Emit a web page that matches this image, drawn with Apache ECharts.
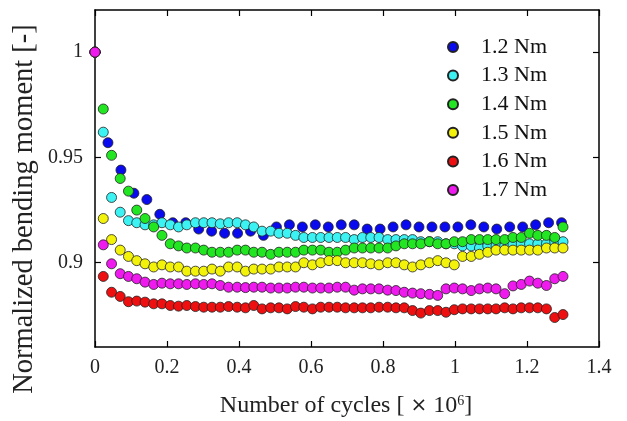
<!DOCTYPE html>
<html>
<head>
<meta charset="utf-8">
<script src="https://cdn.jsdelivr.net/npm/echarts@6/dist/echarts.min.js"></script>
<style>html,body{margin:0;padding:0;background:#fff}#c{width:627px;height:421px}</style>
</head>
<body>
<div id="c"></div>
<script>
// Cycle positions (x 10^6)
var cyclesDense = [0, 0.023, 0.046, 0.070, 0.093, 0.116, 0.139, 0.163, 0.186, 0.209,
  0.232, 0.255, 0.279, 0.302, 0.325, 0.348, 0.371, 0.395, 0.418, 0.441,
  0.464, 0.488, 0.511, 0.534, 0.557, 0.580, 0.604, 0.627, 0.650, 0.673,
  0.696, 0.720, 0.743, 0.766, 0.789, 0.813, 0.836, 0.859, 0.882, 0.905,
  0.929, 0.952, 0.975, 0.998, 1.021, 1.045, 1.068, 1.091, 1.114, 1.138,
  1.161, 1.184, 1.207, 1.230, 1.254, 1.277, 1.300];
var cyclesBlue = [0, 0.036, 0.072, 0.108, 0.144, 0.18, 0.216, 0.252, 0.288, 0.324,
  0.36, 0.396, 0.432, 0.468, 0.504, 0.54, 0.576, 0.612, 0.648, 0.684,
  0.72, 0.756, 0.792, 0.828, 0.864, 0.9, 0.936, 0.972, 1.008, 1.044,
  1.08, 1.116, 1.152, 1.188, 1.224, 1.26, 1.296];

var seriesNames = ['1.2 Nm', '1.3 Nm', '1.4 Nm', '1.5 Nm', '1.6 Nm', '1.7 Nm'];

var m12 = [1.000, 0.957, 0.944, 0.933, 0.930, 0.923, 0.919, 0.919, 0.916, 0.915,
  0.914, 0.914, 0.915, 0.913, 0.917, 0.918, 0.917, 0.918, 0.917, 0.918,
  0.918, 0.916, 0.916, 0.917, 0.918, 0.917, 0.917, 0.917, 0.917, 0.918,
  0.917, 0.916, 0.917, 0.917, 0.918, 0.919, 0.919];
var m13 = [1.000, 0.962, 0.931, 0.924, 0.920, 0.919, 0.918, 0.918, 0.919, 0.918,
  0.917, 0.918, 0.919, 0.919, 0.919, 0.9185, 0.919, 0.919, 0.918, 0.917,
  0.915, 0.915, 0.914, 0.914, 0.913, 0.912, 0.912, 0.912, 0.912, 0.912,
  0.912, 0.911, 0.912, 0.912, 0.912, 0.911, 0.911, 0.911, 0.911, 0.910,
  0.910, 0.910, 0.909, 0.909, 0.908, 0.908, 0.907, 0.908, 0.908, 0.908,
  0.909, 0.909, 0.909, 0.909, 0.909, 0.910, 0.910];
var m14 = [1.000, 0.973, 0.951, 0.940, 0.934, 0.925, 0.921, 0.917, 0.913, 0.909,
  0.908, 0.907, 0.907, 0.906, 0.905, 0.905, 0.905, 0.906, 0.906, 0.905,
  0.905, 0.904, 0.905, 0.905, 0.905, 0.906, 0.906, 0.906, 0.905, 0.905,
  0.906, 0.907, 0.907, 0.907, 0.907, 0.907, 0.908, 0.909, 0.909, 0.909,
  0.910, 0.909, 0.909, 0.910, 0.910, 0.911, 0.911, 0.911, 0.911, 0.911,
  0.912, 0.912, 0.914, 0.913, 0.913, 0.912, 0.917];
var m15 = [1.000, 0.921, 0.911, 0.906, 0.903, 0.901, 0.8995, 0.898, 0.899, 0.898,
  0.898, 0.896, 0.896, 0.896, 0.897, 0.896, 0.898, 0.898, 0.896, 0.897,
  0.897, 0.897, 0.898, 0.898, 0.898, 0.900, 0.899, 0.900, 0.901, 0.901,
  0.900, 0.900, 0.900, 0.8995, 0.899, 0.900, 0.900, 0.899, 0.898, 0.899,
  0.900, 0.901, 0.900, 0.899, 0.903, 0.903, 0.904, 0.905, 0.906, 0.906,
  0.906, 0.906, 0.906, 0.906, 0.907, 0.907, 0.907];
var m16 = [1.000, 0.8935, 0.886, 0.884, 0.8815, 0.8818, 0.8813, 0.8805, 0.8805, 0.8797,
  0.8794, 0.8797, 0.8792, 0.8789, 0.8789, 0.8789, 0.8792, 0.8789, 0.8786, 0.8797,
  0.8781, 0.8786, 0.8786, 0.8781, 0.8792, 0.8789, 0.8781, 0.8789, 0.8789, 0.8789,
  0.8786, 0.8786, 0.8786, 0.8786, 0.8789, 0.8789, 0.8786, 0.8786, 0.8773, 0.8761,
  0.8773, 0.8773, 0.8765, 0.8777, 0.8781, 0.8781, 0.8781, 0.8781, 0.8781, 0.8786,
  0.8781, 0.8786, 0.8786, 0.8786, 0.8781, 0.874, 0.8754];
var m17 = [1.000, 0.9085, 0.8995, 0.8948, 0.8935, 0.8924, 0.8908, 0.8897, 0.8903, 0.8900,
  0.8900, 0.8897, 0.8900, 0.8897, 0.8900, 0.8892, 0.8884, 0.8884, 0.8882, 0.8884,
  0.8884, 0.8880, 0.8880, 0.8880, 0.8884, 0.8884, 0.8880, 0.8880, 0.8880, 0.8884,
  0.8884, 0.8870, 0.8876, 0.8876, 0.8876, 0.8870, 0.8868, 0.8860, 0.8856, 0.8853,
  0.8850, 0.8845, 0.8876, 0.8880, 0.8876, 0.8868, 0.8876, 0.8880, 0.8876, 0.8853,
  0.8890, 0.8897, 0.8913, 0.8903, 0.8892, 0.8924, 0.8935];

var yTicks = [0.9, 0.95, 1];

var colors = ['#0a0aee', '#3cf2f2', '#22e622', '#f2f20a', '#ee1010', '#ee1aee'];
var xsList = [cyclesBlue, cyclesDense, cyclesDense, cyclesDense, cyclesDense, cyclesDense];
var ysList = [m12, m13, m14, m15, m16, m17];

var FONT = "'Liberation Serif','Times New Roman',serif";

function zip(xs, ys) { return ys.map(function (v, i) { return [xs[i], v]; }); }

var series = seriesNames.map(function (n, k) {
  return {
    name: n, type: 'scatter', xAxisIndex: 0, yAxisIndex: 0,
    symbol: 'circle', symbolSize: 10,
    itemStyle: { color: colors[k], borderColor: '#222', borderWidth: 0.8, opacity: 1 },
    emphasis: { disabled: true },
    data: zip(xsList[k], ysList[k])
  };
});

var axisLine = { show: true, onZero: false, lineStyle: { color: '#000', width: 1.5 } };
var tickStyle = { show: true, inside: true, length: 6, lineStyle: { color: '#000', width: 1.2 } };

var chart = echarts.init(document.getElementById('c'), null, { renderer: 'canvas' });
chart.setOption({
  animation: false,
  backgroundColor: '#fff',
  grid: { left: 95, top: 10, right: 28, bottom: 74 },
  legend: {
    orient: 'vertical', left: 442, top: 31, itemGap: 6.6, padding: 5,
    itemWidth: 10, itemHeight: 10, icon: 'circle',
    textStyle: { fontFamily: FONT, fontSize: 22, color: '#111', padding: [0, 0, 0, 18] },
    data: seriesNames
  },
  xAxis: [{
    type: 'value', position: 'bottom', min: 0, max: 1.4, interval: 0.2,
    axisLine: axisLine, axisTick: tickStyle, splitLine: { show: false },
    axisLabel: { fontFamily: FONT, fontSize: 20, color: '#222', margin: 11 }
  }, {
    type: 'value', position: 'top', min: 0, max: 1.4, interval: 0.2,
    axisLine: axisLine, axisTick: tickStyle, splitLine: { show: false },
    axisLabel: { show: false }
  }],
  yAxis: [{
    type: 'value', position: 'left', min: 0.86, max: 1.02,
    axisLine: axisLine, splitLine: { show: false },
    axisTick: Object.assign({ customValues: yTicks }, tickStyle),
    axisLabel: { customValues: yTicks, fontFamily: FONT, fontSize: 20, color: '#222', margin: 12,
      formatter: function (v) { return String(+v.toFixed(2)); } }
  }, {
    type: 'value', position: 'right', min: 0.86, max: 1.02,
    axisLine: axisLine, splitLine: { show: false },
    axisTick: Object.assign({ customValues: yTicks }, tickStyle),
    axisLabel: { show: false }
  }],
  graphic: [{
    type: 'text', x: 25, y: 209, rotation: Math.PI / 2,
    style: { text: 'Normalized bending moment [-]', font: "28.5px " + FONT, fill: '#222',
      textAlign: 'center', textVerticalAlign: 'middle' }
  }, {
    type: 'text', x: 346, y: 406,
    style: {
      text: 'Number of cycles [ {x|×} 10{sup|6}]',
      font: "24px " + FONT, fill: '#222', textAlign: 'center', textVerticalAlign: 'middle',
      rich: {
        x: { fontFamily: "'DejaVu Sans',sans-serif", fontSize: 20, fill: '#222' },
        sup: { fontFamily: FONT, fontSize: 14, fill: '#222', verticalAlign: 'top', lineHeight: 14 }
      }
    }
  }],
  series: series
});
</script>
</body>
</html>
